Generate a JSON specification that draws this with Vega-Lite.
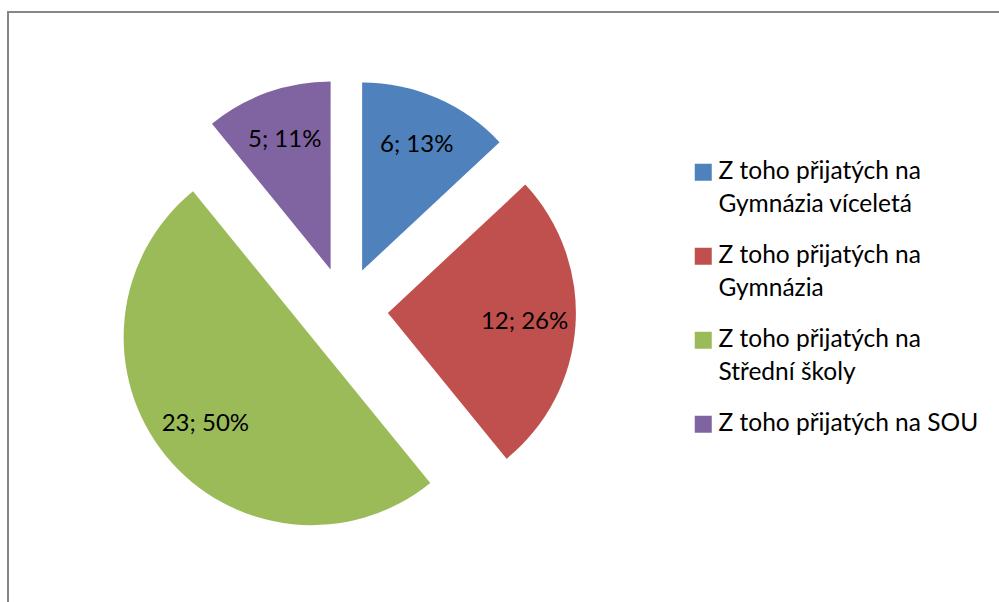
{
  "$schema": "https://vega.github.io/schema/vega-lite/v6.json",
  "width": 1000,
  "height": 600,
  "autosize": {"type": "none"},
  "padding": {"left": 8, "top": 12, "right": 0, "bottom": 0},
  "background": "white",
  "view": {"stroke": "#868686", "strokeWidth": 2},
  "config": {"font": "Lato", "style": {"guide-label": {"lineHeight": 33}}},
  "data": {
    "values": [
      {"i": 1, "cat": "Z toho přijatých na Gymnázia víceletá", "value": 6, "label": "6; 13%"},
      {"i": 2, "cat": "Z toho přijatých na Gymnázia", "value": 12, "label": "12; 26%"},
      {"i": 3, "cat": "Z toho přijatých na Střední školy", "value": 23, "label": "23; 50%"},
      {"i": 4, "cat": "Z toho přijatých na SOU", "value": 5, "label": "5; 11%"}
    ]
  },
  "encoding": {
    "theta": {"field": "value", "type": "quantitative", "stack": true},
    "order": {"field": "i", "type": "quantitative"}
  },
  "layer": [
    {
      "mark": {
        "type": "arc",
        "radius": 188,
        "x": 337,
        "y": 298,
        "xOffset": {"expr": "43*sin((scale('theta', datum.value_start) + scale('theta', datum.value_end))/2)"},
        "yOffset": {"expr": "-43*cos((scale('theta', datum.value_start) + scale('theta', datum.value_end))/2)"}
      },
      "encoding": {
        "color": {
          "field": "cat",
          "type": "nominal",
          "scale": {
            "domain": ["Z toho přijatých na Gymnázia víceletá", "Z toho přijatých na Gymnázia", "Z toho přijatých na Střední školy", "Z toho přijatých na SOU"],
            "range": ["#4F81BD", "#C0504D", "#9BBB59", "#8064A2"]
          },
          "legend": {
            "orient": "none",
            "legendX": 683,
            "legendY": 148,
            "title": null,
            "symbolType": "square",
            "symbolSize": 289,
            "symbolStrokeWidth": 0,
            "labelFont": "Lato",
            "labelFontSize": 24.5,
            "labelColor": "black",
            "labelLimit": 400,
            "labelOffset": 3,
            "rowPadding": 26,
            "padding": 0,
            "labelExpr": "datum.label == 'Z toho přijatých na SOU' ? datum.label : ['Z toho přijatých na', substring(datum.label, 20)]"
          }
        }
      }
    },
    {
      "mark": {
        "type": "text",
        "radius": 137,
        "x": 337,
        "y": 298,
        "fontSize": 24,
        "font": "Lato",
        "color": "black",
        "xOffset": {"expr": "43*sin((scale('theta', datum.value_start) + scale('theta', datum.value_end))/2)"},
        "yOffset": {"expr": "-43*cos((scale('theta', datum.value_start) + scale('theta', datum.value_end))/2)"}
      },
      "encoding": {
        "text": {"field": "label", "type": "nominal"}
      }
    }
  ]
}
